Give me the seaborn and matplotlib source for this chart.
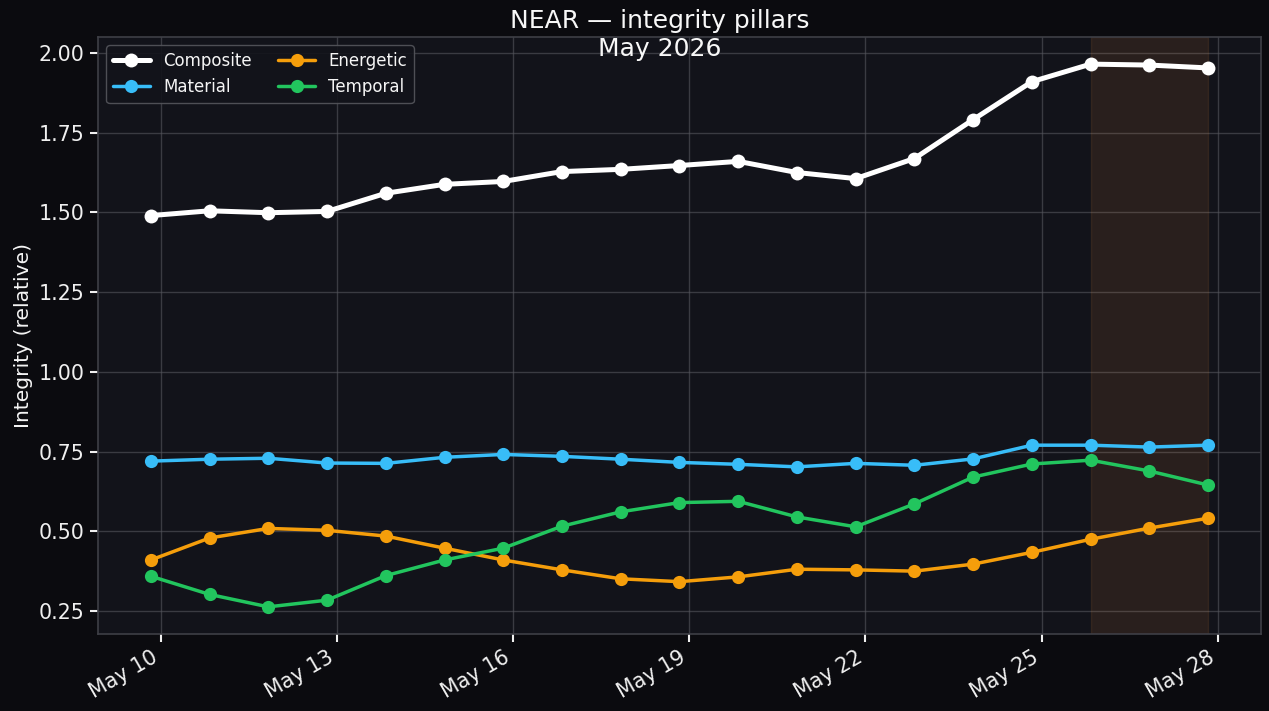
import numpy as np
import pandas as pd
import matplotlib
matplotlib.use("Agg")
import matplotlib.pyplot as plt
import matplotlib.dates as mdates
import seaborn as sns

# data
dates = pd.date_range("2026-05-09 20:00", periods=19, freq="D")
composite = [1.490, 1.505, 1.499, 1.503, 1.560, 1.588, 1.597, 1.628, 1.635, 1.647, 1.660,
             1.625, 1.606, 1.669, 1.791, 1.910, 1.965, 1.962, 1.953]
material = [0.720, 0.726, 0.729, 0.714, 0.713, 0.732, 0.741, 0.735, 0.726, 0.716, 0.710,
            0.702, 0.713, 0.707, 0.727, 0.770, 0.770, 0.764, 0.770]
energetic = [0.410, 0.479, 0.509, 0.503, 0.485, 0.447, 0.410, 0.379, 0.351, 0.342, 0.357,
             0.381, 0.379, 0.375, 0.397, 0.434, 0.475, 0.510, 0.541]
temporal = [0.359, 0.302, 0.263, 0.284, 0.361, 0.410, 0.447, 0.516, 0.561, 0.590, 0.594,
            0.545, 0.514, 0.586, 0.670, 0.711, 0.723, 0.689, 0.645]
highlight_from = 16  # shaded window covers the last three days

series = {
    "Composite": (composite, "#ffffff", 3.6, 10),
    "Material": (material, "#38bdf8", 2.5, 9.5),
    "Energetic": (energetic, "#f59e0b", 2.5, 9.5),
    "Temporal": (temporal, "#22c55e", 2.5, 9.5),
}

fig_bg = "#0b0b0f"
ax_bg = "#12131a"

sns.set_theme(style="darkgrid")
plt.rcParams.update({
    "figure.facecolor": fig_bg,
    "axes.facecolor": ax_bg,
    "axes.edgecolor": "#3e3f46",
    "axes.linewidth": 1.2,
    "grid.color": "#55565d",
    "grid.linewidth": 1.0,
    "text.color": "#f5f5f5",
    "axes.labelcolor": "#f5f5f5",
    "xtick.color": "#f0f0f0",
    "ytick.color": "#f0f0f0",
    "xtick.bottom": True,
    "ytick.left": True,
    "xtick.major.size": 6,
    "ytick.major.size": 6,
    "xtick.major.width": 1.5,
    "ytick.major.width": 1.5,
})
plt.rcParams["font.family"] = ["DejaVu Sans"]

fig = plt.figure(figsize=(12.69, 7.11), dpi=100)
ax = fig.add_axes([0.0772, 0.1083, 0.9165, 0.8397])

for name, (vals, color, lw, ms) in series.items():
    sns.lineplot(x=dates, y=vals, ax=ax, color=color, linewidth=lw, marker="o",
                 markersize=ms, markeredgewidth=0, label=name, zorder=3)

ax.axvspan(dates[highlight_from], dates[-1], color="#fb923c", alpha=0.1, zorder=1)

ax.xaxis.set_major_locator(mdates.DayLocator(interval=3))
ax.xaxis.set_major_formatter(mdates.DateFormatter("%b %d"))
for lbl in ax.get_xticklabels():
    lbl.set_rotation(30)
    lbl.set_ha("right")
ax.tick_params(axis="both", labelsize=14.8)
ax.set_ylabel("Integrity (relative)", fontsize=14.6)
ax.set_xlabel("")
ax.grid(True, alpha=0.6)

leg = ax.legend(loc="upper left", ncol=2, fontsize=12, frameon=True,
                facecolor=ax_bg, edgecolor="#55565c", framealpha=0.9,
                columnspacing=1.6, handlelength=2.2)
for t in leg.get_texts():
    t.set_color("#f5f5f5")

fig.text(0.52, 0.987, "NEAR \u2014 integrity pillars\nMay 2026", ha="center", va="top",
         fontsize=18, color="#f8f8f8", linespacing=1.2)

fig.savefig("out.png", dpi=100, facecolor=fig_bg)
